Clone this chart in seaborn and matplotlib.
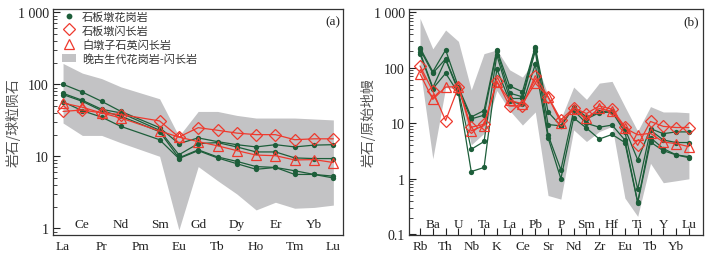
import numpy as np
import pandas as pd
import matplotlib
matplotlib.use("Agg")
import matplotlib.pyplot as plt
from matplotlib.lines import Line2D
from matplotlib.patches import Patch
from matplotlib.ticker import FixedLocator, NullFormatter, LogLocator
import seaborn as sns

# ---------------- data ----------------
ree_axis = ['La', 'Ce', 'Pr', 'Nd', 'Pm', 'Sm', 'Eu', 'Gd', 'Tb', 'Dy', 'Ho', 'Er', 'Tm', 'Yb', 'Lu']
ree_elems = ['La', 'Ce', 'Pr', 'Nd', 'Sm', 'Eu', 'Gd', 'Tb', 'Dy', 'Ho', 'Er', 'Tm', 'Yb', 'Lu']

ree_granite_1 = [100, 78, 58, 42, 25, 15, 18, 16, 14.5, 13.5, 14.5, 13.5, 14.3, 14.5]
ree_granite_2 = [75, 60, 45, 40, 23, 10.5, 15, 15.5, 13.5, 11.5, 11.5, 9.5, 9.3, 9.3]
ree_granite_3 = [72, 58, 43, 36, 22, 9.5, 12.3, 9.8, 8.5, 7.2, 7.0, 6.3, 5.6, 5.3]
ree_granite_4 = [57, 43, 35, 26, 17, 9.3, 12.0, 9.5, 7.9, 6.6, 7.0, 5.6, 5.6, 5.0]
ree_diorite = [42, 44, 40, 38, 31, 18.5, 25, 23, 21, 20, 20, 17, 17.5, 17.5]
ree_qdiorite = [55, 48, 40, 34, 22.5, 18.5, 16, 14, 12, 10.4, 10.2, 8.9, 9.0, 8.2]
ree_band_elems = ['La', 'Ce', 'Pr', 'Nd', 'Sm', 'Eu', 'Gd', 'Tb', 'Dy', 'Ho', 'Er', 'Tm', 'Yb', 'Lu']
ree_band_upper = [195, 143, 120, 92, 63, 19, 42, 42, 37, 34, 34, 34, 33, 32]
ree_band_lower = [29, 19.5, 19.5, 15.4, 10, 0.95, 7.2, 4.6, 3.0, 1.8, 2.3, 1.9, 1.95, 2.1]

spd_elems = ['Rb', 'Ba', 'Th', 'U', 'Nb', 'Ta', 'K', 'La', 'Ce', 'Pb', 'Sr', 'P', 'Nd', 'Sm',
             'Zr', 'Hf', 'Eu', 'Ti', 'Tb', 'Y', 'Yb', 'Lu']
spd_granite_1 = [230, 85, 210, 45, 13, 17, 210, 47, 37, 240, 16, 9, 20, 13, 16, 17, 8, 2.2, 8, 6.5, 7, 7]
spd_granite_2 = [215, 80, 145, 40, 12, 14, 200, 35, 30, 230, 9.5, 9, 19, 12, 15.5, 16, 7, 0.65, 7.5, 5, 4.5, 4.5]
spd_granite_3 = [190, 44, 140, 38, 3.4, 4.7, 170, 28, 28, 200, 6.2, 1.45, 17, 10, 8.5, 9.3, 5, 0.38, 5.5, 3.5, 2.7, 2.5]
spd_granite_4 = [180, 42, 80, 35, 1.35, 1.6, 95, 25, 22, 115, 5.5, 1.0, 12.5, 8.2, 5.2, 6.3, 4.5, 0.37, 4.6, 3.2, 2.7, 2.4]
spd_diorite = [108, 38, 11.2, 45, 8.5, 9.6, 58, 20.5, 20.5, 72, 30, 11.5, 19, 15, 20.5, 18, 8.7, 4.0, 10.8, 8.8, 8.4, 8.4]
spd_qdiorite = [78, 27, 45, 46, 7.3, 9.1, 55, 26, 22.5, 53, 30, 10.3, 17.8, 12.3, 18.5, 16.5, 8.2, 6.2, 6.6, 4.6, 4.3, 3.8]
spd_band_upper = [780, 220, 480, 300, 40, 180, 210, 92, 68, 140, 32, 12, 45, 27, 53, 57, 20, 7.2, 20, 16, 16, 15.5]
spd_band_lower = [100, 2.3, 44, 42, 4.1, 6.6, 39, 17, 9.3, 16, 0.5, 0.43, 7.6, 4.7, 7.1, 8.8, 0.45, 0.21, 1.9, 0.85, 0.92, 1.0]

legend_labels = ['石板墩花岗岩', '石板墩闪长岩', '白墩子石英闪长岩', '晚古生代花岗岩-闪长岩']

# ---------------- style ----------------
sns.set_theme(style="white")
plt.rcParams['font.family'] = ['Liberation Serif', 'Noto Sans CJK SC', 'DejaVu Sans']
plt.rcParams['axes.edgecolor'] = '#333333'
plt.rcParams['axes.linewidth'] = 0.9

GREEN = '#1d5e3a'
RED = '#ee3a2e'
GRAY = '#c3c3c5'
TXT = '#333333'

fig = plt.figure(figsize=(7.14, 2.55), dpi=100)
axL = fig.add_axes([53 / 714, 19 / 255, 290 / 714, 226 / 255])
axR = fig.add_axes([409 / 714, 19 / 255, 294 / 714, 226 / 255])


def long_df(elems, axis_order, series):
    rows = []
    for name, vals in series.items():
        for e, v in zip(elems, vals):
            rows.append({'sample': name, 'pos': axis_order.index(e), 'val': v})
    return pd.DataFrame(rows)


def draw(ax, elems, axis_order, granites, dio, qdio, band_elems, up, lo):
    bx = [axis_order.index(e) for e in band_elems]
    ax.fill_between(bx, lo, up, color=GRAY, linewidth=0, zorder=1)
    gdf = long_df(elems, axis_order, granites)
    sns.lineplot(data=gdf, x='pos', y='val', units='sample', estimator=None, ax=ax,
                 color=GREEN, linewidth=0.9, marker='o', markersize=3.8,
                 markeredgewidth=0, sort=False, zorder=3, legend=False)
    ddf = long_df(elems, axis_order, {'d': dio})
    sns.lineplot(data=ddf, x='pos', y='val', ax=ax, color=RED, linewidth=0.9,
                 marker='D', markersize=6.5, markerfacecolor='none', markeredgecolor=RED,
                 markeredgewidth=0.9, sort=False, zorder=4, legend=False)
    tdf = long_df(elems, axis_order, {'t': qdio})
    sns.lineplot(data=tdf, x='pos', y='val', ax=ax, color=RED, linewidth=0.9,
                 marker='^', markersize=7.5, markerfacecolor='none', markeredgecolor=RED,
                 markeredgewidth=0.9, sort=False, zorder=4, legend=False)
    ax.set_yscale('log')
    ax.set_xlabel('')
    ax.set_ylabel('')
    n = len(axis_order)
    low_idx = list(range(0, n, 2))
    up_idx = list(range(1, n, 2))
    ax.xaxis.set_major_locator(FixedLocator(low_idx))
    ax.set_xticklabels([axis_order[i] for i in low_idx])
    ax.xaxis.set_minor_locator(FixedLocator(up_idx))
    ax.xaxis.set_minor_formatter(matplotlib.ticker.FixedFormatter([axis_order[i] for i in up_idx]))
    for s in ax.spines.values():
        s.set_visible(True)
        s.set_color('#333333')


draw(axL, ree_elems, ree_axis,
     {'g1': ree_granite_1, 'g2': ree_granite_2, 'g3': ree_granite_3, 'g4': ree_granite_4},
     ree_diorite, ree_qdiorite, ree_band_elems, ree_band_upper, ree_band_lower)
draw(axR, spd_elems, spd_elems,
     {'g1': spd_granite_1, 'g2': spd_granite_2, 'g3': spd_granite_3, 'g4': spd_granite_4},
     spd_diorite, spd_qdiorite, spd_elems, spd_band_upper, spd_band_lower)

# limits
axL.set_xlim(-0.52, 14.5)
axL.set_ylim(10 ** (-0.093), 10 ** 3.046)
axR.set_xlim(-0.86, 22.1)
axR.set_ylim(10 ** (-1.013), 10 ** 3.06)

# y ticks
axL.yaxis.set_major_locator(FixedLocator([1, 10, 100, 1000]))
axL.set_yticklabels(['1', '10', '100', '1 000'])
axR.yaxis.set_major_locator(FixedLocator([0.1, 1, 10, 100, 1000]))
axR.set_yticklabels(['0.1', '1', '10', '100', '1 000'])
for ax in (axL, axR):
    ax.yaxis.set_minor_locator(LogLocator(base=10, subs=np.arange(2, 10)))
    ax.yaxis.set_minor_formatter(NullFormatter())
    ax.tick_params(axis='y', which='major', direction='in', length=5, width=0.8,
                   labelsize=10, pad=3, colors='#222222', left=True)
    ax.tick_params(axis='y', which='minor', direction='in', length=2.8, width=0.6, left=True)
    ax.tick_params(axis='x', which='major', labelsize=9.5, pad=3.5, colors='#222222', bottom=True)
    ax.tick_params(axis='x', which='minor', labelsize=9.5, pad=-12, colors='#222222', bottom=True)

axL.tick_params(axis='x', which='both', length=0)
axR.tick_params(axis='x', which='both', direction='in', length=5, width=0.8)

# y labels
axL.set_ylabel('岩石/球粒陨石', family=['Noto Sans CJK SC'], fontsize=10, color='#555555')
axR.set_ylabel('岩石/原始地幔', family=['Noto Sans CJK SC'], fontsize=10, color='#555555')
axL.yaxis.set_label_coords(-32 / 290, 0.5)
axR.yaxis.set_label_coords(-33 / 294, 0.5)

# panel labels
axL.text(0.99, 0.945, '(a)', transform=axL.transAxes, ha='right', va='center', fontsize=9.5, color='#222222')
axR.text(0.985, 0.945, '(b)', transform=axR.transAxes, ha='right', va='center', fontsize=9.5, color='#222222')

# legend
handles = [
    Line2D([], [], color=GREEN, marker='o', linestyle='none', markersize=4.2, markeredgewidth=0),
    Line2D([], [], color=RED, marker='D', linestyle='none', markersize=6.5, markerfacecolor='none', markeredgewidth=0.9),
    Line2D([], [], color=RED, marker='^', linestyle='none', markersize=7.5, markerfacecolor='none', markeredgewidth=0.9),
    Patch(facecolor=GRAY, edgecolor='none'),
]
leg = axL.legend(handles, legend_labels, loc='upper left', bbox_to_anchor=(0.0, 1.03),
                 frameon=False, handlelength=1.3, handleheight=0.8, handletextpad=0.5,
                 labelspacing=0.3, borderpad=0.3,
                 prop={'family': ['Noto Sans CJK SC'], 'size': 8})
for t in leg.get_texts():
    t.set_color(TXT)

fig.savefig('out.png', dpi=100)
